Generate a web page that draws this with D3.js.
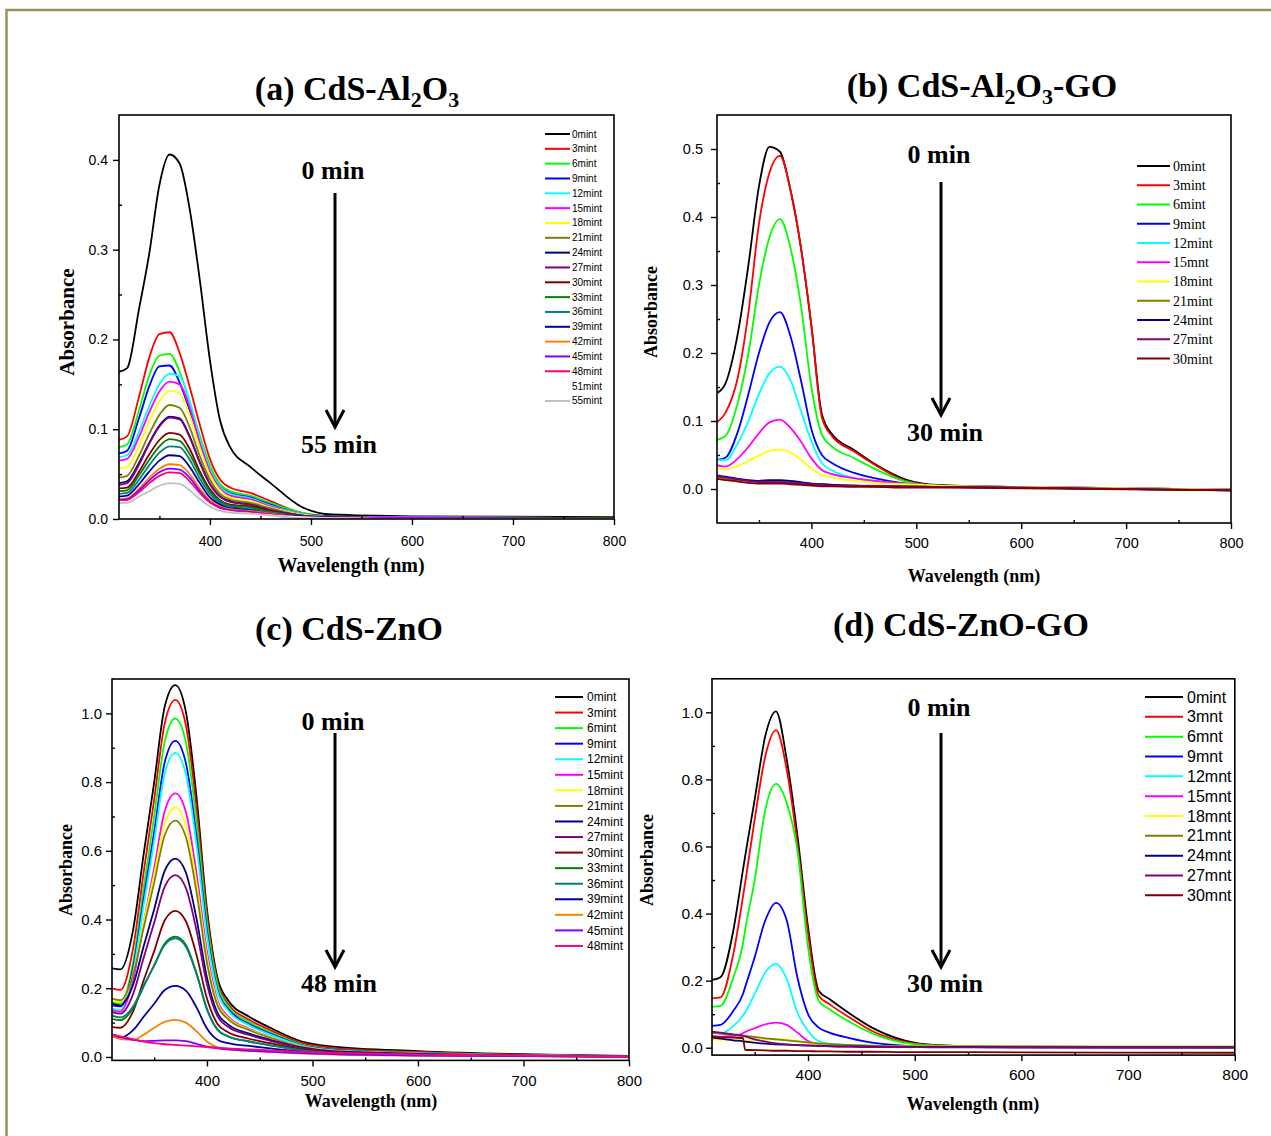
<!DOCTYPE html>
<html>
<head>
<meta charset="utf-8">
<script src="https://cdn.jsdelivr.net/npm/d3@7"></script>
<style>
  body { margin: 0; background: #fff; }
  svg { display: block; }
</style>
</head>
<body>
<svg id="chart" width="1271" height="1136"></svg>
<script>
// wavelength grids (nm)
const aWave = [310, 318, 330, 340, 350, 360, 370, 380, 390, 400, 410, 420, 440, 460, 490, 520, 600, 800]
const bWave = [310, 318, 330, 340, 350, 360, 370, 380, 390, 400, 410, 420, 440, 460, 490, 520, 600, 800]
const cWave = [310, 318, 330, 340, 350, 360, 370, 380, 390, 400, 410, 420, 440, 460, 490, 520, 600, 800]
const dWave = [310, 318, 330, 339, 341, 350, 360, 370, 380, 390, 400, 410, 420, 440, 460, 490, 520, 600, 800]

const curveColors = ['#000000', '#ff0000', '#00ff00', '#0000ff', '#00ffff', '#ff00ff', '#ffff00', '#808000', '#000080',
  '#800080', '#800000', '#008000', '#008080', '#0000a0', '#ff8000', '#8000ff', '#ff0080', '#ffffff', '#c0c0c0']

// (a) CdS-Al2O3
const aLabels = ['0mint', '3mint', '6mint', '9mint', '12mint', '15mint', '18mint', '21mint', '24mint', '27mint',
  '30mint', '33mint', '36mint', '39mint', '42mint', '45mint', '48mint', '51mint', '55mint']
const aSeries = [
  [0.164, 0.168, 0.235, 0.296, 0.372, 0.406, 0.396, 0.345, 0.266, 0.177, 0.110, 0.080, 0.058, 0.040, 0.014, 0.005, 0.003, 0.002],
  [0.088, 0.092, 0.137, 0.180, 0.206, 0.208, 0.185, 0.147, 0.105, 0.067, 0.044, 0.035, 0.029, 0.020, 0.007, 0.003, 0.002, 0.001],
  [0.080, 0.083, 0.122, 0.160, 0.182, 0.184, 0.164, 0.130, 0.093, 0.060, 0.039, 0.031, 0.026, 0.018, 0.007, 0.003, 0.002, 0.001],
  [0.073, 0.076, 0.113, 0.148, 0.170, 0.171, 0.152, 0.121, 0.087, 0.055, 0.036, 0.029, 0.024, 0.016, 0.006, 0.003, 0.002, 0.001],
  [0.069, 0.071, 0.098, 0.126, 0.150, 0.162, 0.159, 0.131, 0.090, 0.056, 0.036, 0.028, 0.023, 0.015, 0.006, 0.002, 0.002, 0.001],
  [0.065, 0.067, 0.092, 0.119, 0.142, 0.153, 0.150, 0.124, 0.085, 0.053, 0.034, 0.026, 0.022, 0.014, 0.005, 0.002, 0.002, 0.001],
  [0.056, 0.058, 0.082, 0.109, 0.131, 0.143, 0.140, 0.115, 0.079, 0.049, 0.032, 0.024, 0.020, 0.013, 0.005, 0.002, 0.001, 0.001],
  [0.046, 0.048, 0.071, 0.095, 0.116, 0.127, 0.124, 0.102, 0.070, 0.044, 0.028, 0.022, 0.018, 0.012, 0.004, 0.002, 0.001, 0.001],
  [0.040, 0.042, 0.063, 0.085, 0.104, 0.114, 0.112, 0.092, 0.063, 0.039, 0.025, 0.020, 0.016, 0.010, 0.004, 0.002, 0.001, 0.001],
  [0.038, 0.040, 0.061, 0.084, 0.103, 0.113, 0.111, 0.091, 0.063, 0.039, 0.025, 0.019, 0.016, 0.010, 0.004, 0.002, 0.001, 0.001],
  [0.034, 0.035, 0.053, 0.072, 0.088, 0.096, 0.094, 0.078, 0.053, 0.033, 0.021, 0.016, 0.014, 0.009, 0.003, 0.001, 0.001, 0.001],
  [0.031, 0.032, 0.049, 0.066, 0.081, 0.089, 0.087, 0.072, 0.050, 0.031, 0.020, 0.015, 0.013, 0.008, 0.003, 0.001, 0.001, 0.001],
  [0.028, 0.029, 0.044, 0.060, 0.074, 0.081, 0.080, 0.066, 0.045, 0.028, 0.018, 0.014, 0.011, 0.007, 0.003, 0.001, 0.001, 0.000],
  [0.025, 0.026, 0.039, 0.053, 0.065, 0.071, 0.070, 0.058, 0.040, 0.024, 0.016, 0.012, 0.010, 0.006, 0.003, 0.001, 0.001, 0.000],
  [0.022, 0.023, 0.034, 0.046, 0.056, 0.061, 0.060, 0.050, 0.034, 0.021, 0.014, 0.011, 0.009, 0.006, 0.002, 0.001, 0.001, 0.000],
  [0.021, 0.022, 0.032, 0.043, 0.052, 0.056, 0.055, 0.046, 0.031, 0.019, 0.013, 0.010, 0.008, 0.005, 0.002, 0.001, 0.001, 0.000],
  [0.020, 0.021, 0.030, 0.040, 0.048, 0.052, 0.051, 0.042, 0.029, 0.018, 0.012, 0.009, 0.007, 0.005, 0.002, 0.001, 0.000, 0.000],
  [0.019, 0.019, 0.027, 0.035, 0.042, 0.045, 0.045, 0.037, 0.025, 0.016, 0.010, 0.008, 0.006, 0.004, 0.002, 0.001, 0.000, 0.000],
  [0.018, 0.018, 0.025, 0.031, 0.037, 0.040, 0.039, 0.032, 0.022, 0.014, 0.009, 0.007, 0.006, 0.004, 0.001, 0.001, 0.000, 0.000]
]

// (b) CdS-Al2O3-GO
const bLabels = ['0mint', '3mint', '6mint', '9mint', '12mint', '15mnt', '18mint', '21mint', '24mint', '27mint', '30mint']
const bSeries = [
  [0.141, 0.155, 0.230, 0.330, 0.445, 0.503, 0.496, 0.440, 0.355, 0.240, 0.110, 0.080, 0.058, 0.037, 0.014, 0.006, 0.003, -0.001],
  [0.098, 0.112, 0.165, 0.260, 0.390, 0.465, 0.490, 0.440, 0.355, 0.240, 0.105, 0.077, 0.056, 0.036, 0.012, 0.005, 0.003, -0.001],
  [0.072, 0.078, 0.128, 0.200, 0.300, 0.370, 0.397, 0.355, 0.270, 0.150, 0.080, 0.062, 0.046, 0.030, 0.011, 0.005, 0.003, -0.001],
  [0.043, 0.046, 0.085, 0.140, 0.200, 0.245, 0.260, 0.225, 0.160, 0.088, 0.050, 0.038, 0.024, 0.016, 0.008, 0.004, 0.002, -0.001],
  [0.043, 0.042, 0.068, 0.100, 0.140, 0.170, 0.180, 0.160, 0.115, 0.070, 0.038, 0.027, 0.016, 0.012, 0.007, 0.004, 0.002, -0.001],
  [0.035, 0.033, 0.045, 0.062, 0.082, 0.098, 0.102, 0.090, 0.070, 0.045, 0.028, 0.022, 0.016, 0.012, 0.008, 0.005, 0.003, -0.001],
  [0.031, 0.029, 0.034, 0.041, 0.049, 0.056, 0.058, 0.054, 0.043, 0.030, 0.021, 0.017, 0.012, 0.009, 0.007, 0.005, 0.003, -0.001],
  [0.017, 0.015, 0.013, 0.012, 0.011, 0.011, 0.011, 0.010, 0.009, 0.008, 0.007, 0.006, 0.005, 0.005, 0.004, 0.003, 0.002, -0.002],
  [0.020, 0.018, 0.015, 0.013, 0.012, 0.013, 0.013, 0.012, 0.010, 0.008, 0.007, 0.006, 0.005, 0.004, 0.004, 0.003, 0.002, -0.002],
  [0.019, 0.017, 0.014, 0.012, 0.010, 0.010, 0.010, 0.009, 0.008, 0.007, 0.006, 0.005, 0.005, 0.004, 0.003, 0.003, 0.002, -0.002],
  [0.015, 0.013, 0.011, 0.009, 0.008, 0.008, 0.008, 0.007, 0.006, 0.005, 0.004, 0.004, 0.003, 0.003, 0.002, 0.002, 0.001, -0.002]
]

// (c) CdS-ZnO
const cLabels = ['0mint', '3mint', '6mint', '9mint', '12mint', '15mint', '18mint', '21mint', '24mint', '27mint',
  '30mint', '33mint', '36mint', '39mint', '42mint', '45mint', '48mint']
const cSeries = [
  [0.258, 0.255, 0.370, 0.590, 0.800, 1.020, 1.082, 1.005, 0.760, 0.430, 0.230, 0.165, 0.117, 0.085, 0.045, 0.030, 0.017, 0.003],
  [0.200, 0.195, 0.316, 0.537, 0.750, 0.971, 1.039, 0.966, 0.727, 0.416, 0.220, 0.155, 0.108, 0.078, 0.040, 0.026, 0.015, 0.002],
  [0.158, 0.155, 0.275, 0.492, 0.701, 0.918, 0.985, 0.916, 0.690, 0.394, 0.210, 0.148, 0.102, 0.072, 0.036, 0.022, 0.012, 0.002],
  [0.150, 0.147, 0.259, 0.461, 0.655, 0.858, 0.920, 0.856, 0.644, 0.368, 0.195, 0.140, 0.096, 0.068, 0.034, 0.021, 0.011, 0.002],
  [0.140, 0.137, 0.246, 0.441, 0.629, 0.825, 0.885, 0.823, 0.620, 0.354, 0.190, 0.135, 0.092, 0.065, 0.033, 0.020, 0.011, 0.002],
  [0.135, 0.132, 0.224, 0.390, 0.550, 0.716, 0.767, 0.713, 0.537, 0.307, 0.165, 0.118, 0.082, 0.058, 0.030, 0.018, 0.010, 0.002],
  [0.165, 0.160, 0.241, 0.389, 0.532, 0.680, 0.726, 0.675, 0.508, 0.290, 0.158, 0.114, 0.080, 0.057, 0.030, 0.018, 0.010, 0.002],
  [0.170, 0.165, 0.239, 0.376, 0.508, 0.646, 0.688, 0.640, 0.482, 0.275, 0.150, 0.110, 0.078, 0.056, 0.029, 0.017, 0.010, 0.002],
  [0.155, 0.150, 0.210, 0.322, 0.430, 0.542, 0.577, 0.537, 0.404, 0.231, 0.128, 0.095, 0.068, 0.050, 0.027, 0.016, 0.009, 0.002],
  [0.130, 0.126, 0.183, 0.289, 0.391, 0.496, 0.529, 0.492, 0.370, 0.212, 0.118, 0.088, 0.064, 0.047, 0.026, 0.015, 0.008, 0.002],
  [0.087, 0.085, 0.133, 0.223, 0.308, 0.398, 0.425, 0.395, 0.298, 0.170, 0.096, 0.072, 0.053, 0.040, 0.022, 0.013, 0.007, 0.001],
  [0.110, 0.107, 0.142, 0.205, 0.267, 0.330, 0.350, 0.326, 0.245, 0.140, 0.080, 0.060, 0.045, 0.034, 0.019, 0.011, 0.006, 0.001],
  [0.120, 0.115, 0.147, 0.208, 0.266, 0.326, 0.345, 0.321, 0.242, 0.138, 0.079, 0.060, 0.045, 0.034, 0.019, 0.011, 0.006, 0.001],
  [0.060, 0.056, 0.078, 0.117, 0.155, 0.195, 0.207, 0.193, 0.145, 0.083, 0.050, 0.040, 0.032, 0.025, 0.015, 0.009, 0.005, 0.001],
  [0.060, 0.052, 0.050, 0.065, 0.085, 0.102, 0.108, 0.100, 0.075, 0.045, 0.028, 0.022, 0.018, 0.015, 0.010, 0.007, 0.004, 0.001],
  [0.065, 0.058, 0.050, 0.046, 0.047, 0.048, 0.048, 0.046, 0.038, 0.030, 0.025, 0.022, 0.018, 0.015, 0.011, 0.008, 0.004, 0.001],
  [0.066, 0.060, 0.052, 0.045, 0.040, 0.037, 0.035, 0.033, 0.031, 0.029, 0.027, 0.025, 0.022, 0.019, 0.015, 0.012, 0.007, 0.001]
]

// (d) CdS-ZnO-GO
const dLabels = ['0mint', '3mnt', '6mnt', '9mnt', '12mnt', '15mnt', '18mnt', '21mnt', '24mnt', '27mnt', '30mnt']
const dSeries = [
  [0.202, 0.210, 0.350, 0.530, 0.570, 0.740, 0.930, 1.003, 0.860, 0.635, 0.360, 0.170, 0.145, 0.100, 0.060, 0.022, 0.008, 0.003, 0.002],
  [0.147, 0.150, 0.280, 0.450, 0.490, 0.680, 0.870, 0.947, 0.830, 0.610, 0.340, 0.155, 0.130, 0.088, 0.050, 0.018, 0.007, 0.003, 0.001],
  [0.122, 0.125, 0.210, 0.310, 0.350, 0.500, 0.710, 0.787, 0.730, 0.590, 0.300, 0.140, 0.115, 0.075, 0.043, 0.015, 0.006, 0.002, 0.001],
  [0.065, 0.068, 0.110, 0.160, 0.180, 0.270, 0.380, 0.432, 0.380, 0.210, 0.100, 0.060, 0.045, 0.028, 0.015, 0.006, 0.003, 0.002, 0.001],
  [0.045, 0.042, 0.065, 0.095, 0.105, 0.160, 0.225, 0.250, 0.205, 0.105, 0.050, 0.020, 0.012, 0.008, 0.005, 0.003, 0.002, 0.001, 0.001],
  [0.035, 0.033, 0.035, 0.043, 0.047, 0.058, 0.070, 0.075, 0.068, 0.045, 0.020, 0.008, 0.005, 0.004, 0.003, 0.002, 0.002, 0.001, 0.001],
  [0.025, 0.024, 0.022, 0.022, 0.022, 0.023, 0.025, 0.026, 0.024, 0.020, 0.015, 0.010, 0.008, 0.006, 0.005, 0.004, 0.004, 0.003, 0.003],
  [0.045, 0.042, 0.038, 0.035, 0.035, 0.032, 0.028, 0.025, 0.022, 0.019, 0.016, 0.013, 0.011, 0.008, 0.006, 0.004, 0.003, 0.003, 0.003],
  [0.030, 0.027, 0.022, 0.019, 0.018, 0.015, 0.012, 0.010, 0.009, 0.008, 0.007, 0.006, 0.005, 0.004, 0.003, 0.002, 0.002, 0.001, 0.001],
  [0.048, 0.045, 0.040, 0.036, 0.034, 0.025, 0.018, 0.013, 0.010, 0.008, 0.006, 0.005, 0.004, 0.003, 0.002, 0.002, 0.001, 0.001, 0.000],
  [0.032, 0.031, 0.030, 0.029, -0.006, -0.007, -0.008, -0.009, -0.009, -0.010, -0.010, -0.011, -0.011, -0.012, -0.012, -0.013, -0.013, -0.014, -0.015]
]

const xTickValues = [400, 500, 600, 700, 800]
const xMinorValues = [350, 450, 550, 650, 750]

const serif = "'Liberation Serif', 'Times New Roman', serif"
const sans = "'Liberation Sans', Arial, sans-serif"

const svg = d3.select('#chart')

// outer olive frame, runs off the right and bottom edges
svg.append('rect')
  .attr('x', 6.5).attr('y', 10).attr('width', 1300).attr('height', 1200)
  .attr('fill', 'none').attr('stroke', '#9a9060').attr('stroke-width', 2.5)

const panels = [
  {
    id: 'a', wave: aWave, series: aSeries, labels: aLabels,
    left: 119, right: 614, top: 115, bottom: 519, yDomain: [0, 0.45],
    yTicks: [0, 0.1, 0.2, 0.3, 0.4], yMinor: [0.05, 0.15, 0.25, 0.35],
    tickFont: 14, xPad: 11, yPad: 5,
    title: [['(a) CdS-Al', 0], ['2', 1], ['O', 0], ['3', 1]], titleX: 357, titleY: 100,
    yLab: { x: 74, y: 322, size: 21 }, xLab: { x: 351, y: 572, size: 20 },
    legend: { x1: 545, x2: 570, tx: 572, y0: 134, dy: 14.83, size: 10, font: sans },
    note: { top: '0 min', bottom: '55 min', x: 335, tY: 179, a1: 193, a2: 427, bY: 453 }
  },
  {
    id: 'b', wave: bWave, series: bSeries, labels: bLabels,
    left: 717, right: 1231, top: 115, bottom: 523, yDomain: [-0.05, 0.55],
    yTicks: [0, 0.1, 0.2, 0.3, 0.4, 0.5], yMinor: [0.05, 0.15, 0.25, 0.35, 0.45],
    tickFont: 14.5, xPad: 9, yPad: 8,
    title: [['(b) CdS-Al', 0], ['2', 1], ['O', 0], ['3', 1], ['-GO', 0]], titleX: 982, titleY: 97,
    yLab: { x: 657, y: 312, size: 18 }, xLab: { x: 974, y: 582, size: 18 },
    legend: { x1: 1137, x2: 1170, tx: 1173, y0: 166, dy: 19.26, size: 14, font: serif },
    note: { top: '0 min', bottom: '30 min', x: 941, tY: 163, a1: 182, a2: 415, bY: 441 }
  },
  {
    id: 'c', wave: cWave, series: cSeries, labels: cLabels,
    left: 112, right: 629, top: 679, bottom: 1060.4, yDomain: [-0.01, 1.1],
    yTicks: [0, 0.2, 0.4, 0.6, 0.8, 1.0], yMinor: [0.1, 0.3, 0.5, 0.7, 0.9],
    tickFont: 15, xPad: 9, yPad: 4,
    title: [['(c) CdS-ZnO', 0]], titleX: 349, titleY: 640,
    yLab: { x: 72, y: 870, size: 18 }, xLab: { x: 371, y: 1107, size: 18 },
    legend: { x1: 555, x2: 583, tx: 587, y0: 697, dy: 15.56, size: 12, font: sans },
    note: { top: '0 min', bottom: '48 min', x: 335, tY: 730, a1: 733, a2: 967, bY: 992 }
  },
  {
    id: 'd', wave: dWave, series: dSeries, labels: dLabels,
    left: 712, right: 1234.8, top: 678.8, bottom: 1055.1, yDomain: [-0.022, 1.1],
    yTicks: [0, 0.2, 0.4, 0.6, 0.8, 1.0], yMinor: [0.1, 0.3, 0.5, 0.7, 0.9],
    tickFont: 15.5, xPad: 8, yPad: 3,
    title: [['(d) CdS-ZnO-GO', 0]], titleX: 961, titleY: 636,
    yLab: { x: 653, y: 860, size: 18 }, xLab: { x: 973, y: 1110, size: 18 },
    legend: { x1: 1145, x2: 1183, tx: 1187, y0: 697, dy: 19.83, size: 16, font: sans },
    note: { top: '0 min', bottom: '30 min', x: 941, tY: 716, a1: 733, a2: 967, bY: 992 }
  }
]

function drawPanel (p) {
  const g = svg.append('g').attr('class', 'panel-' + p.id)
  const x = d3.scaleLinear().domain([310, 800]).range([p.left, p.right])
  const y = d3.scaleLinear().domain(p.yDomain).range([p.bottom, p.top])

  g.append('clipPath').attr('id', 'clip-' + p.id)
    .append('rect')
    .attr('x', p.left).attr('y', p.top)
    .attr('width', p.right - p.left).attr('height', p.bottom - p.top)

  // spectra
  const line = d3.line()
    .x(d => x(d[0]))
    .y(d => y(d[1]))
    .curve(d3.curveMonotoneX)
  p.series.forEach((vals, i) => {
    g.append('path')
      .attr('clip-path', 'url(#clip-' + p.id + ')')
      .attr('d', line(p.wave.map((w, k) => [w, vals[k]])))
      .attr('fill', 'none')
      .attr('stroke', curveColors[i])
      .attr('stroke-width', 1.8)
      .attr('stroke-linejoin', 'round')
  })

  // box
  g.append('rect')
    .attr('x', p.left).attr('y', p.top)
    .attr('width', p.right - p.left).attr('height', p.bottom - p.top)
    .attr('fill', 'none').attr('stroke', '#000').attr('stroke-width', 1.6)

  // major ticks outward, minor ticks inward
  const xAxis = g.append('g').attr('transform', `translate(0,${p.bottom})`)
    .call(d3.axisBottom(x).tickValues(xTickValues).tickSize(6).tickSizeOuter(0).tickPadding(p.xPad))
  const xMinor = g.append('g').attr('transform', `translate(0,${p.bottom})`)
    .call(d3.axisBottom(x).tickValues(xMinorValues).tickSize(-3).tickSizeOuter(0).tickFormat(''))
  const yAxis = g.append('g').attr('transform', `translate(${p.left},0)`)
    .call(d3.axisLeft(y).tickValues(p.yTicks).tickSize(6).tickSizeOuter(0).tickPadding(p.yPad).tickFormat(d3.format('.1f')))
  const yMinor = g.append('g').attr('transform', `translate(${p.left},0)`)
    .call(d3.axisLeft(y).tickValues(p.yMinor).tickSize(-3).tickSizeOuter(0).tickFormat(''))
  ;[xAxis, xMinor, yAxis, yMinor].forEach(ax => {
    ax.select('.domain').remove()
    ax.selectAll('line').attr('stroke', '#000').attr('stroke-width', 1.4)
    ax.selectAll('text').attr('font-family', sans).attr('font-size', p.tickFont).attr('fill', '#000')
  })

  // title with subscripts
  const t = g.append('text')
    .attr('x', p.titleX).attr('y', p.titleY)
    .attr('text-anchor', 'middle')
    .attr('font-family', serif).attr('font-weight', 'bold').attr('font-size', 34)
  let shifted = false
  p.title.forEach(part => {
    const ts = t.append('tspan').text(part[0])
    if (part[1]) {
      ts.attr('font-size', 22).attr('dy', shifted ? 0 : 7)
      shifted = true
    } else if (shifted) {
      ts.attr('dy', -7)
      shifted = false
    }
  })

  // axis titles
  g.append('text')
    .attr('transform', `translate(${p.yLab.x},${p.yLab.y}) rotate(-90)`)
    .attr('text-anchor', 'middle')
    .attr('font-family', serif).attr('font-weight', 'bold').attr('font-size', p.yLab.size)
    .text('Absorbance')
  g.append('text')
    .attr('x', p.xLab.x).attr('y', p.xLab.y)
    .attr('text-anchor', 'middle')
    .attr('font-family', serif).attr('font-weight', 'bold').attr('font-size', p.xLab.size)
    .text('Wavelength (nm)')

  // legend
  const lg = p.legend
  p.labels.forEach((lab, i) => {
    const ly = lg.y0 + i * lg.dy
    g.append('line')
      .attr('x1', lg.x1).attr('x2', lg.x2).attr('y1', ly).attr('y2', ly)
      .attr('stroke', curveColors[i]).attr('stroke-width', 2)
    g.append('text')
      .attr('x', lg.tx).attr('y', ly)
      .attr('dy', '0.35em')
      .attr('font-family', lg.font).attr('font-size', lg.size)
      .text(lab)
  })

  // time annotation with arrow
  const n = p.note
  g.append('text')
    .attr('x', n.x - 2).attr('y', n.tY)
    .attr('text-anchor', 'middle')
    .attr('font-family', serif).attr('font-weight', 'bold').attr('font-size', 26)
    .text(n.top)
  g.append('line')
    .attr('x1', n.x).attr('x2', n.x).attr('y1', n.a1).attr('y2', n.a2)
    .attr('stroke', '#000').attr('stroke-width', 3)
  g.append('path')
    .attr('d', `M${n.x - 9},${n.a2 - 17}L${n.x},${n.a2}L${n.x + 9},${n.a2 - 17}`)
    .attr('fill', 'none').attr('stroke', '#000').attr('stroke-width', 3)
  g.append('text')
    .attr('x', n.x + 4).attr('y', n.bY)
    .attr('text-anchor', 'middle')
    .attr('font-family', serif).attr('font-weight', 'bold').attr('font-size', 26)
    .text(n.bottom)
}

panels.forEach(drawPanel)
</script>
</body>
</html>
